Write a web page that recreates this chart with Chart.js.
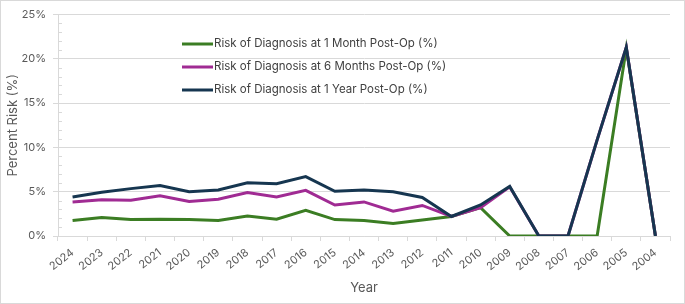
<!DOCTYPE html>
<html>
<head>
<meta charset="utf-8">
<script src="https://cdn.jsdelivr.net/npm/chart.js@4.4.1/dist/chart.umd.min.js"></script>
<style>
    body { margin: 0; background: #fff; }
    #wrap {
        width: 685px; height: 304px;
        box-sizing: border-box;
        border: 1px solid #d9d9d9;
        position: relative;
    }
    #riskChart { display: block; }
</style>
</head>
<body>
<div id="wrap">
    <canvas id="riskChart" width="683" height="302"></canvas>
</div>
<script>
// data
const years = ['2024', '2023', '2022', '2021', '2020', '2019', '2018', '2017', '2016', '2015', '2014',
    '2013', '2012', '2011', '2010', '2009', '2008', '2007', '2006', '2005', '2004'];
const oneMonth = [1.75, 2.1, 1.85, 1.9, 1.85, 1.75, 2.25, 1.9, 2.9, 1.85, 1.75,
    1.4, 1.8, 2.2, 3.2, 0, 0, 0, 0, 21.2, 0];
const sixMonths = [3.85, 4.1, 4.05, 4.55, 3.9, 4.15, 4.9, 4.4, 5.15, 3.5, 3.85,
    2.8, 3.45, 2.2, 3.2, 5.55, 0, 0, 10.85, 21.3, 0];
const oneYear = [4.4, 4.95, 5.35, 5.7, 5.0, 5.2, 6.0, 5.9, 6.7, 5.05, 5.2,
    5.0, 4.35, 2.2, 3.5, 5.6, 0, 0, 10.85, 21.3, 0];
const seriesLabels = [
    'Risk of Diagnosis at 1 Month Post-Op (%)',
    'Risk of Diagnosis at 6 Months Post-Op (%)',
    'Risk of Diagnosis at 1 Year Post-Op (%)'
];
const seriesColors = ['#3b7d23', '#a02b93', '#163650'];

const FONT = 'Inter, "Open Sans", sans-serif';
const textGrey = '#595959';
const gridGrey = '#d9d9d9';

// legend drawn inside the plot like the excel one
const insideLegend = {
    id: 'insideLegend',
    afterDraw(chart) {
        const ctx = chart.ctx;
        const x0 = 181;
        const rows = [43, 66, 89];
        ctx.save();
        ctx.font = '11.5px ' + FONT;
        ctx.textBaseline = 'middle';
        chart.data.datasets.forEach((ds, i) => {
            ctx.strokeStyle = ds.borderColor;
            ctx.lineWidth = 3;
            ctx.beginPath();
            ctx.moveTo(x0, rows[i]);
            ctx.lineTo(x0 + 31, rows[i]);
            ctx.stroke();
            ctx.fillStyle = '#404040';
            ctx.fillText(ds.label, x0 + 32, rows[i]);
        });
        ctx.restore();
    }
};

// small minor tick marks on the inner side of the y axis
const minorTicks = {
    id: 'minorTicks',
    beforeDatasetsDraw(chart) {
        const y = chart.scales.y;
        const ctx = chart.ctx;
        ctx.save();
        ctx.strokeStyle = gridGrey;
        ctx.lineWidth = 1;
        y.ticks.forEach(t => {
            if (t.value % 5 === 0) return;
            const py = Math.round(y.getPixelForValue(t.value)) + 0.5;
            ctx.beginPath();
            ctx.moveTo(y.right, py);
            ctx.lineTo(y.right + 4, py);
            ctx.stroke();
        });
        ctx.restore();
    }
};

const datasets = [oneMonth, sixMonths, oneYear].map((vals, i) => {
    return {
        label: seriesLabels[i],
        data: vals,
        borderColor: seriesColors[i],
        backgroundColor: seriesColors[i],
        borderWidth: 3,
        pointRadius: 0,
        tension: 0,
        order: 3 - i, // year line on top, month line at the bottom
    };
});

const ctx = document.getElementById('riskChart').getContext('2d');
new Chart(ctx, {
    type: 'line',
    data: { labels: years, datasets: datasets },
    options: {
        responsive: false,
        animation: false,
        layout: { padding: { top: 8, right: 14, left: 0, bottom: 0 } },
        plugins: {
            legend: { display: false },
            tooltip: { enabled: false }
        },
        scales: {
            x: {
                offset: true,
                afterFit: function(scale) { scale.height = 67; },
                grid: {
                    offset: true,
                    drawOnChartArea: false,
                    color: gridGrey,
                    tickLength: 5
                },
                border: { color: gridGrey },
                ticks: {
                    color: textGrey,
                    font: { family: FONT, size: 11 },
                    minRotation: 38,
                    maxRotation: 38,
                    autoSkip: false,
                    padding: 5
                },
                title: {
                    display: true,
                    text: 'Year',
                    color: textGrey,
                    font: { family: FONT, size: 13 },
                    padding: { top: 4, bottom: 7 }
                }
            },
            y: {
                min: 0,
                max: 25,
                afterFit: function(scale) { scale.width = 57; },
                border: { color: gridGrey },
                grid: {
                    color: function(c) {
                        return c.tick && c.tick.value % 5 === 0 ? gridGrey : 'rgba(0,0,0,0)';
                    },
                    tickColor: function(c) {
                        return c.tick && c.tick.value % 5 === 0 ? gridGrey : 'rgba(0,0,0,0)';
                    },
                    tickLength: 5
                },
                ticks: {
                    stepSize: 1,
                    autoSkip: false,
                    color: textGrey,
                    font: { family: FONT, size: 11 },
                    padding: 7,
                    callback: function(v) {
                        return v % 5 === 0 ? v + '%' : '';
                    }
                },
                title: {
                    display: true,
                    text: 'Percent Risk (%)',
                    color: textGrey,
                    font: { family: FONT, size: 13 },
                    padding: { top: 4, bottom: 0 }
                }
            }
        }
    },
    plugins: [insideLegend, minorTicks]
});
</script>
</body>
</html>
